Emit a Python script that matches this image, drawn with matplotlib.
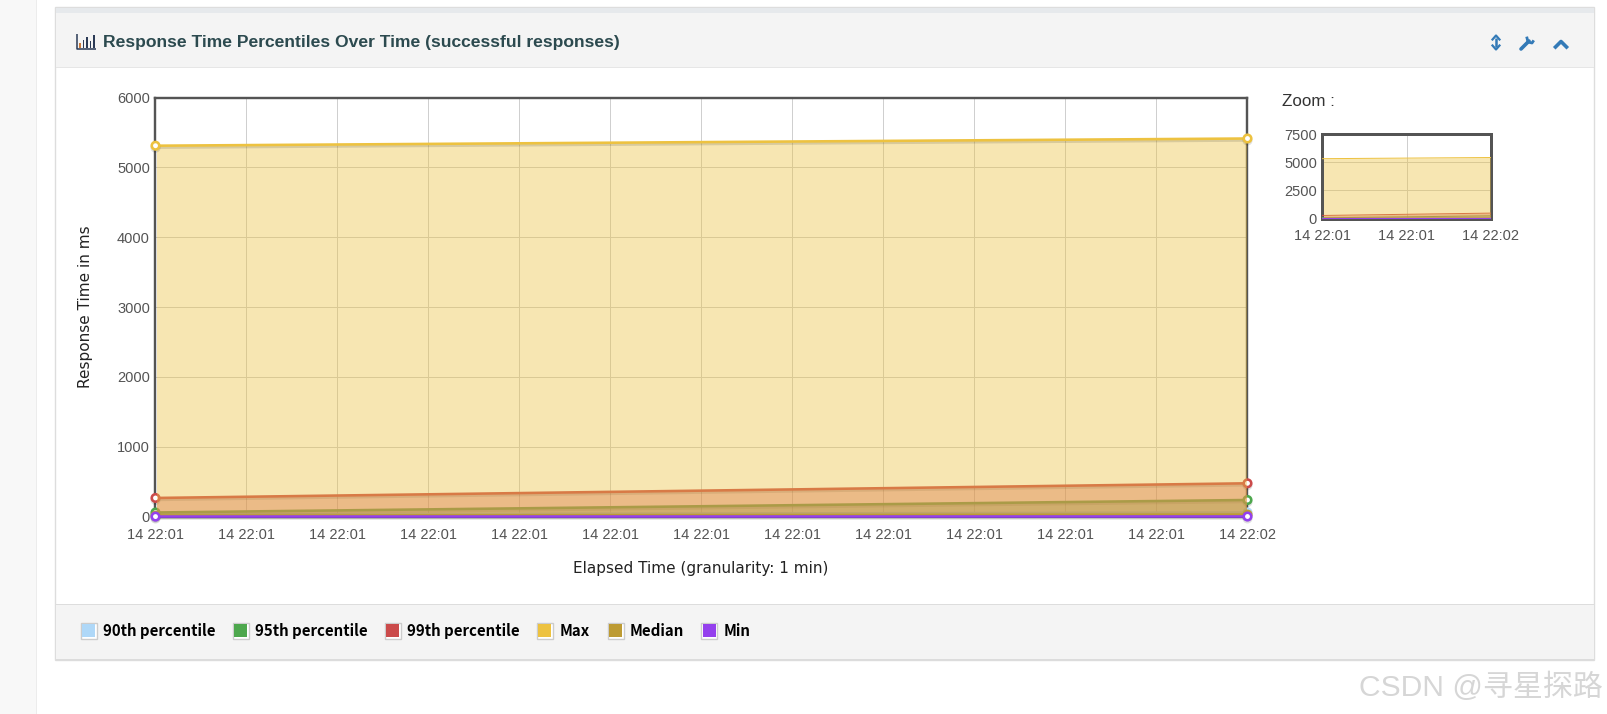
import matplotlib
matplotlib.use("Agg")
import matplotlib.pyplot as plt
import matplotlib.patheffects as pe
from matplotlib.patches import Rectangle
from matplotlib.transforms import Bbox

# ---- data ----
elapsed_seconds = [0, 60]
series_names = ["90th percentile", "95th percentile", "99th percentile", "Max", "Median", "Min"]
p90_values = [30, 60]
p95_values = [60, 239]
p99_values = [268, 478]
max_values = [5310, 5413]
median_values = [15, 30]
min_values = [2, 3]
series_values = [p90_values, p95_values, p99_values, max_values, median_values, min_values]
series_colors = ["#afd8f8", "#4da74d", "#cb4b4b", "#edc240", "#bd9b33", "#9440ed"]

main_xticks = [0, 5, 10, 15, 20, 25, 30, 35, 40, 45, 50, 55, 60]
main_xlabels = ["14 22:01"] * 12 + ["14 22:02"]
main_yticks = [0, 1000, 2000, 3000, 4000, 5000, 6000]
mini_xticks = [0, 30, 60]
mini_xlabels = ["14 22:01", "14 22:01", "14 22:02"]
mini_yticks = [0, 2500, 5000, 7500]

W, H = 1608, 714
SANS = "Liberation Sans"
VERD = "DejaVu Sans"
TICK = "#545454"
GRID = "#cfcfcf"


def px(v):
    return v * 0.72


fig = plt.figure(figsize=(W / 100, H / 100), dpi=100, facecolor="white")

# ---- page furniture, in pixel coordinates ----
bg = fig.add_axes([0, 0, 1, 1], zorder=0)
bg.set_xlim(0, W)
bg.set_ylim(H, 0)
bg.axis("off")


def box(x0, y0, x1, y1, **kw):
    bg.add_patch(Rectangle((x0, y0), x1 - x0, y1 - y0, **kw))


box(0, 0, 37, H, fc="#f8f8f8", ec="none")
box(36.5, 0, 37.5, H, fc="#ececec", ec="none")
box(55.5, 7, 1594.5, 660, fc="white", ec="#dddddd", lw=1)
box(56, 8, 1594, 13, fc="#e6e9ec", ec="none")
box(56, 13, 1594, 67, fc="#f4f4f4", ec="none")
box(56, 67, 1594, 68, fc="#e6e6e6", ec="none")
box(56, 604, 1594, 659, fc="#f4f4f4", ec="none")
box(56, 603.5, 1594, 604.5, fc="#dddddd", ec="none")
box(56, 659, 1594, 660.5, fc="#dcdcdc", ec="none")

# header icon: small bar chart
bg.plot([77, 77, 96], [34, 49, 49], color="#2b3a55", lw=1.1, solid_capstyle="butt")
for xb, top, c in [(80, 43, "#c8793a"), (83.5, 40, "#2b3a55"), (87, 37, "#2b3a55"), (90.5, 41, "#2b3a55"), (94, 35, "#2b3a55")]:
    box(xb - 0.9, top, xb + 0.9, 47.5, fc=c, ec="none")

bg.text(103, 43, "Response Time Percentiles Over Time (successful responses)", family=SANS,
        weight="bold", fontsize=px(17.45), color="#2c4a4f", va="center", ha="left")

# header tools
BLUE = "#337ab7"
bg.plot([1496, 1496], [38, 47], color=BLUE, lw=1.8, solid_capstyle="butt")
bg.plot([1492.5, 1496, 1499.5], [39.5, 35.5, 39.5], color=BLUE, lw=1.6)
bg.plot([1492.5, 1496, 1499.5], [45.5, 49.5, 45.5], color=BLUE, lw=1.6)
bg.plot([1521, 1529], [49, 41], color=BLUE, lw=2.6, solid_capstyle="round")
bg.plot([1527, 1528, 1532, 1533], [38, 42, 43, 41.5], color=BLUE, lw=2)
bg.plot([1555.5, 1561, 1566.5], [47, 41.5, 47], color=BLUE, lw=2.6)

# legend
swatch_x = [80.8, 232.6, 384.9, 536.6, 607.9, 701.4]
label_x = [103, 254.8, 407, 559.3, 630, 724]
for sx, lx, name, col in zip(swatch_x, label_x, series_names, series_colors):
    box(sx, 622.5, sx + 16, 638.5, fc="white", ec="#cccccc", lw=1)
    box(sx + 1.5, 624, sx + 14.5, 637, fc=col, ec="none")
    bg.text(lx, 631, name, family="Noto Sans CJK SC", weight="bold", fontsize=px(15), color="black",
            va="center", ha="left")

bg.text(1282, 101, "Zoom :", family=SANS, fontsize=px(17), color="#333333", va="center", ha="left")
bg.text(85.5, 306.5, "Response Time in ms", family=VERD, fontsize=px(15.2), color="#222222", rotation=90,
        va="center", ha="center")
bg.text(701, 568.5, "Elapsed Time (granularity: 1 min)", family=VERD, fontsize=px(15.2), color="#222222",
        va="center", ha="center")
bg.text(1603, 687, "CSDN @寻星探路", family=[SANS, "Noto Sans CJK SC"], fontsize=px(30), color="#d6d6d6",
        va="center", ha="right")


def axes_px(l, t, r, b):
    return fig.add_axes([l / W, 1 - b / H, (r - l) / W, (b - t) / H], zorder=1, facecolor="none")


def inner_box(l, t, r, b, inset):
    return Bbox.from_extents(l + inset, H - b + inset, r - inset, H - t - inset)


def style(ax, xticks, xlabels, yticks, ymax, border, fs):
    ax.set_xlim(0, 60)
    ax.set_ylim(0, ymax)
    ax.set_xticks(xticks, xlabels)
    ax.set_yticks(yticks)
    ax.grid(True, color=GRID, lw=px(1))
    ax.set_axisbelow(True)
    ax.tick_params(length=0, labelsize=px(fs), labelcolor=TICK)
    for lab in ax.get_xticklabels() + ax.get_yticklabels():
        lab.set_family(SANS)
    for s in ax.spines.values():
        s.set_linewidth(px(border))
        s.set_color("#545454")
        s.set_zorder(1)


# ---- main chart ----
MAIN = (155.5, 97.5, 1247.5, 516.7)
ax = axes_px(*MAIN)
style(ax, main_xticks, main_xlabels, main_yticks, 6000, 2.4, 14.6)
ax.tick_params(axis="x", pad=8)
ax.tick_params(axis="y", pad=4)
for i, (vals, col) in enumerate(zip(series_values, series_colors)):
    z = 2 + i
    band = ax.fill_between(elapsed_seconds, vals, 0, color=col, alpha=0.4, lw=0, zorder=z)
    band.set_clip_box(inner_box(*MAIN, 1.2))
    ax.plot(elapsed_seconds, vals, color=col, lw=px(2.6), zorder=z, clip_on=False,
            path_effects=[pe.SimpleLineShadow(offset=(0, -1.4), shadow_color="black", alpha=0.12), pe.Normal()],
            marker="o", ms=px(7.5), mfc="white", mec=col, mew=px(2.6), solid_capstyle="butt")

# ---- overview chart ----
MINI = (1322.5, 134, 1491, 218.5)
mini = axes_px(*MINI)
style(mini, mini_xticks, mini_xlabels, mini_yticks, 7500, 3, 14.6)
mini.tick_params(axis="x", pad=7.5)
mini.tick_params(axis="y", pad=4)
for i, (vals, col) in enumerate(zip(series_values, series_colors)):
    z = 2 + i
    band = mini.fill_between(elapsed_seconds, vals, 0, color=col, alpha=0.4, lw=0, zorder=z)
    band.set_clip_box(inner_box(*MINI, 1.5))
    mini.plot(elapsed_seconds, vals, color=col, lw=px(1), zorder=z)

fig.savefig("out.png", dpi=100, facecolor="white")
